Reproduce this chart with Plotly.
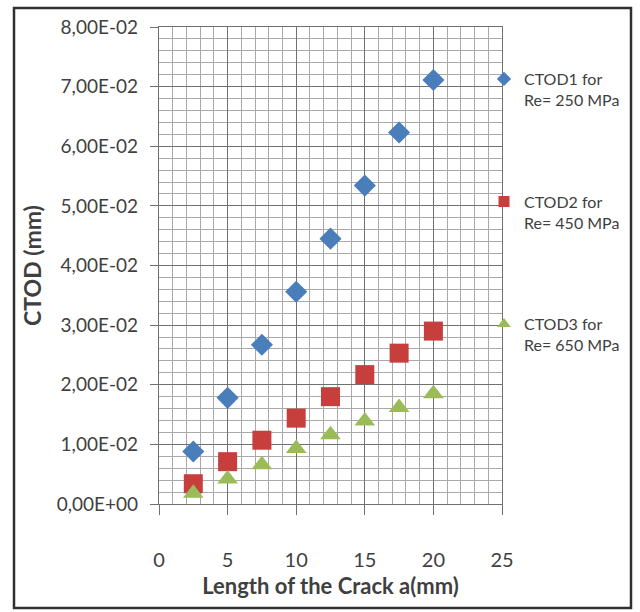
import plotly.graph_objects as go

# Crack length (mm)
crack_length = [2.5, 5, 7.5, 10, 12.5, 15, 17.5, 20]

# CTOD values (mm) for three yield strengths
ctod1_250 = [0.0088, 0.0178, 0.0267, 0.0356, 0.0445, 0.0534, 0.0623, 0.0711]
ctod2_450 = [0.0034, 0.0071, 0.0107, 0.0144, 0.0180, 0.0217, 0.0253, 0.0290]
ctod3_650 = [0.0018, 0.0042, 0.0066, 0.0093, 0.0116, 0.0139, 0.0162, 0.0185]

series_names = ["CTOD1 for<br>Re= 250 MPa", "CTOD2 for<br>Re= 450 MPa", "CTOD3 for<br>Re= 650 MPa"]

x_tick_vals = [0, 5, 10, 15, 20, 25]
y_tick_vals = [0, 0.01, 0.02, 0.03, 0.04, 0.05, 0.06, 0.07, 0.08]
y_tick_text = ["0,00E+00", "1,00E-02", "2,00E-02", "3,00E-02", "4,00E-02",
               "5,00E-02", "6,00E-02", "7,00E-02", "8,00E-02"]

W, H = 640, 612
ML, MR, MT, MB = 159, 138, 27, 108
PW, PH = W - ML - MR, H - MT - MB

FONT = "Lato, Open Sans, sans-serif"
TXT = "#3f3f3f"

styles = [
    dict(symbol="diamond", color="#4a7ebb", size=17, lsize=11),
    dict(symbol="square", color="#c63f3c", size=19, lsize=11),
    dict(symbol="triangle-up", color="#9bbb59", size=18, lsize=12),
]

fig = go.Figure()
for name, ys, st in zip(series_names, [ctod1_250, ctod2_450, ctod3_650], styles):
    fig.add_trace(go.Scatter(
        x=crack_length, y=ys, mode="markers", showlegend=False,
        marker=dict(symbol=st["symbol"], size=st["size"], color=st["color"], line=dict(width=0)),
    ))
# legend entries with smaller symbols
for i, (name, st) in enumerate(zip(series_names, styles)):
    fig.add_trace(go.Scatter(
        x=[None], y=[None], mode="markers", name=name, legendgroup=f"g{i}",
        marker=dict(symbol=st["symbol"], size=st["lsize"], color=st["color"]),
    ))

def px_x(p):
    return (p - ML) / PW

def px_y(p):
    return (H - MB - p) / PH

grid_major = "#707070"
grid_minor = "#a9a9a9"

fig.update_layout(
    width=W, height=H,
    margin=dict(l=ML, r=MR, t=MT, b=MB, pad=0, autoexpand=False),
    paper_bgcolor="white", plot_bgcolor="white",
    font=dict(family=FONT, color=TXT),
    showlegend=True,
    legend=dict(
        x=px_x(484), y=px_y(62), xanchor="left", yanchor="top",
        font=dict(size=16, color=TXT, family=FONT),
        bgcolor="rgba(0,0,0,0)", tracegroupgap=78, valign="top",
        itemwidth=30,
    ),
    xaxis=dict(
        range=[0, 25], tickvals=x_tick_vals, ticks="outside", ticklen=10,
        tickcolor=grid_major, tickwidth=1.3,
        showgrid=True, gridcolor=grid_major, gridwidth=1.3,
        minor=dict(dtick=1, showgrid=True, gridcolor=grid_minor, gridwidth=1.2, ticks=""),
        showline=True, linecolor=grid_major, linewidth=1.3, mirror=True,
        zeroline=False, tickfont=dict(size=20, color=TXT), ticklabelstandoff=28,
        title=dict(text="<b>Length of the Crack a(mm)</b>", font=dict(size=22, color=TXT), standoff=8),
    ),
    yaxis=dict(
        range=[0, 0.08], tickvals=y_tick_vals, ticktext=y_tick_text, ticks="outside", ticklen=8,
        tickcolor=grid_major, tickwidth=1.3,
        showgrid=True, gridcolor=grid_major, gridwidth=1.3,
        minor=dict(dtick=0.002, showgrid=True, gridcolor=grid_minor, gridwidth=1.2, ticks=""),
        showline=True, linecolor=grid_major, linewidth=1.3, mirror=True,
        zeroline=False, tickfont=dict(size=19, color=TXT), ticklabelstandoff=8,
        title=dict(text="<b>CTOD (mm)</b>", font=dict(size=23, color=TXT), standoff=8),
    ),
    shapes=[dict(
        type="rect", xref="paper", yref="paper",
        x0=px_x(14), x1=px_x(631), y0=px_y(608), y1=px_y(8),
        line=dict(color="#303030", width=2.5), fillcolor="rgba(0,0,0,0)", layer="above",
    )],
)

fig.write_html("out.html")
